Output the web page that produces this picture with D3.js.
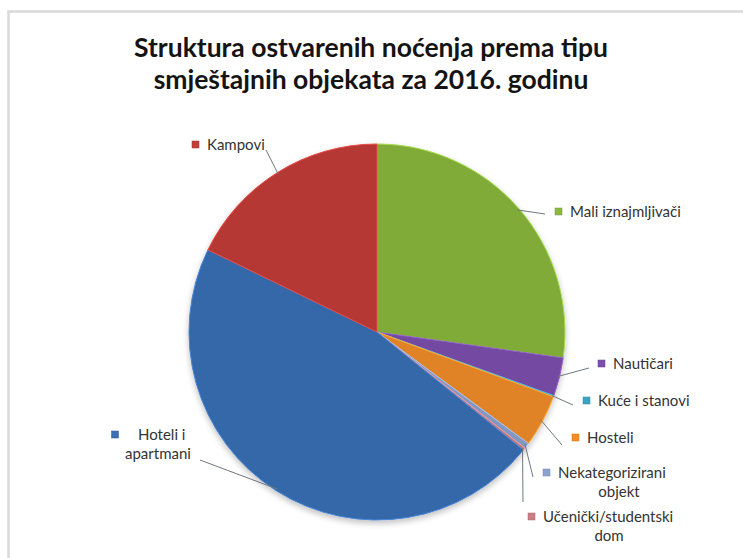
<!DOCTYPE html>
<html>
<head>
<meta charset="utf-8">
<script src="https://cdn.jsdelivr.net/npm/d3@7"></script>
<style>
  html, body { margin: 0; padding: 0; background: #fff; }
  svg { display: block; }
</style>
</head>
<body>
<svg id="chart" width="743" height="558"></svg>
<script>
// Share of overnight stays by accommodation type, 2016 (%)
const categories = [
  "Mali iznajmljivači",
  "Nautičari",
  "Kuće i stanovi",
  "Hosteli",
  "Nekategorizirani objekt",
  "Učenički/studentski dom",
  "Hoteli i apartmani",
  "Kampovi"
];
const shares = [27.2, 3.3, 0.1, 4.5, 0.5, 0.2, 46.4, 17.8];
const colors = ["#8bb83c", "#7c4fae", "#3ca3c2", "#f18d2a", "#8ca3cf", "#cb7d85", "#3a6fb4", "#c23d39"];
const titleLines = ["Struktura ostvarenih noćenja prema tipu", "smještajnih objekata za 2016. godinu"];

// Label placement: text lines, anchor of the text block and end of the leader line
const labelLayout = [
  { lines: ["Mali iznajmljivači"], x: 570, y: 217, lineEnd: [545, 214] },
  { lines: ["Nautičari"], x: 613, y: 369, lineEnd: [589, 368] },
  { lines: ["Kuće i stanovi"], x: 598, y: 406, lineEnd: [573, 405] },
  { lines: ["Hosteli"], x: 587, y: 443, lineEnd: [562, 445] },
  { lines: ["Nekategorizirani", "objekt"], x: 558, y: 478, lineEnd: [533, 477], line2x: 619, mid2: true },
  { lines: ["Učenički/studentski", "dom"], x: 543, y: 522, lineEnd: [523, 502], line2x: 609, mid2: true },
  { lines: ["Hoteli i", "apartmani"], x: 138, y: 440, lineEnd: [200, 460], line2x: 125, markerX: 115 },
  { lines: ["Kampovi"], x: 207, y: 150, lineEnd: [266, 150] }
];

const svg = d3.select("#chart");
const font = "Lato, 'Open Sans', sans-serif";

// chart frame
svg.append("path")
  .attr("d", "M8.5,558 L8.5,11.5 L743,11.5")
  .attr("fill", "none").attr("stroke", "#d9d9d9").attr("stroke-width", 2.5);

// title
svg.append("g").selectAll("text").data(titleLines).join("text")
  .attr("x", 371).attr("y", (d, i) => 57 + i * 32)
  .attr("text-anchor", "middle")
  .attr("font-family", font).attr("font-weight", 700).attr("font-size", 26.5)
  .attr("fill", "#141414")
  .text(d => d);

const cx = 377, cy = 332, r = 188;
const defs = svg.append("defs");

const shadow = defs.append("filter").attr("id", "soft").attr("x", "-10%").attr("y", "-10%").attr("width", "120%").attr("height", "125%");
shadow.append("feGaussianBlur").attr("in", "SourceAlpha").attr("stdDeviation", 3);
shadow.append("feOffset").attr("dx", 0).attr("dy", 3).attr("result", "b");
shadow.append("feComponentTransfer").append("feFuncA").attr("type", "linear").attr("slope", 0.25);
const merge = shadow.append("feMerge");
merge.append("feMergeNode");
merge.append("feMergeNode").attr("in", "SourceGraphic");

// per-slice gradients: slightly darker toward the rim
colors.forEach((c, i) => {
  const g = defs.append("radialGradient").attr("id", "grad" + i)
    .attr("gradientUnits", "userSpaceOnUse")
    .attr("cx", cx).attr("cy", cy).attr("r", r);
  g.append("stop").attr("offset", "0%").attr("stop-color", c);
  g.append("stop").attr("offset", "94%").attr("stop-color", c);
  g.append("stop").attr("offset", "100%").attr("stop-color", d3.color(c).darker(0.2));
});

const pie = d3.pie().sort(null).value(d => d)(shares);
const arc = d3.arc().innerRadius(0).outerRadius(r);

const gPie = svg.append("g").attr("transform", `translate(${cx},${cy})`);
const slices = gPie.append("g").attr("filter", "url(#soft)");
slices.selectAll("path").data(pie).join("path")
  .attr("d", arc)
  .attr("fill", (d, i) => `url(#grad${i})`)
  .attr("stroke", (d, i) => d3.color(colors[i]).brighter(0.5))
  .attr("stroke-width", 1)
  .attr("stroke-linejoin", "round");

// leader lines from the slice rim to each label
const rimArc = d3.arc().innerRadius(r - 2).outerRadius(r - 2);
const leaders = svg.append("g").attr("fill", "none").attr("stroke", "#6f7780").attr("stroke-width", 1);
pie.forEach((d, i) => {
  const [px, py] = rimArc.centroid(d);
  const L = labelLayout[i];
  leaders.append("line")
    .attr("x1", cx + px).attr("y1", cy + py)
    .attr("x2", L.lineEnd[0]).attr("y2", L.lineEnd[1]);
});

// labels with colour markers
const gLab = svg.append("g").attr("font-family", font).attr("font-size", 15).attr("fill", "#333");
labelLayout.forEach((L, i) => {
  const mx = L.markerX !== undefined ? L.markerX : L.x - 11.5;
  gLab.append("rect")
    .attr("x", mx - 3.5).attr("y", L.y - 9)
    .attr("width", 7).attr("height", 7)
    .attr("fill", colors[i]).attr("stroke", d3.color(colors[i]).darker(0.5)).attr("stroke-width", 0.5);
  L.lines.forEach((t, j) => {
    const tx = j === 0 ? L.x : L.line2x;
    gLab.append("text")
      .attr("x", tx).attr("y", L.y + j * 19)
      .attr("text-anchor", j > 0 && L.mid2 ? "middle" : "start")
      .text(t);
  });
});
</script>
</body>
</html>
